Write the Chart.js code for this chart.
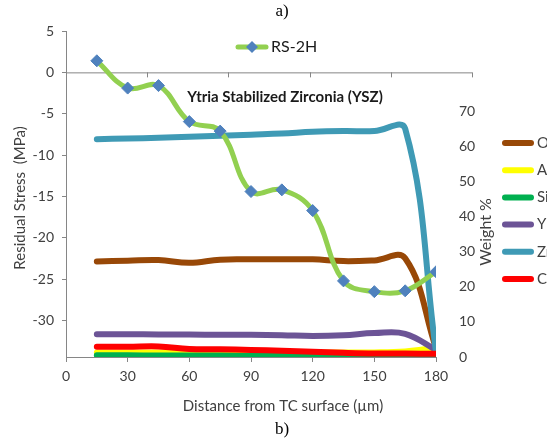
<!DOCTYPE html>
<html>
<head>
<meta charset="UTF-8">
<script src="https://cdn.jsdelivr.net/npm/chart.js"></script>
<style>
  body { margin: 0; background: #fff; }
  #c { display: block; }
</style>
</head>
<body>
<canvas id="c" width="547" height="443"></canvas>
<script>
// distance from TC surface (um)
const distance = [15, 30, 45, 60, 75, 90, 105, 120, 135, 150, 165, 180];

// residual stress, MPa (left axis)
const rs2h = [1.4, -1.9, -1.6, -5.95, -7.1, -14.4, -14.2, -16.7, -25.2, -26.5, -26.4, -24.1];

// weight % (right axis)
const wO  = [27.2, 27.4, 27.6, 26.8, 27.7, 27.8, 27.8, 27.8, 27.3, 27.5, 28.1, 2.5];
const wAl = [1.3, 1.3, 1.3, 1.3, 1.3, 1.3, 1.3, 1.3, 1.3, 1.3, 1.6, 2.6];
const wSi = [0.5, 0.5, 0.4, 0.4, 0.4, 0.3, 0.3, 0.3, 0.3, 0.3, 0.3, 0.3];
const wY  = [6.5, 6.5, 6.4, 6.4, 6.3, 6.3, 6.2, 6.0, 6.2, 6.8, 6.6, 2.0];
const wZr = [62.0, 62.2, 62.4, 62.7, 63.0, 63.3, 63.6, 64.1, 64.3, 64.3, 65.0, 1.5];
const wC  = [2.9, 2.9, 3.0, 2.3, 2.2, 2.0, 1.8, 1.5, 1.2, 1.0, 1.0, 0.9];

const xTicks = [0, 30, 60, 90, 120, 150, 180];
const stressTicks = [5, 0, -5, -10, -15, -20, -25, -30];
const weightTicks = [0, 10, 20, 30, 40, 50, 60, 70];

const AXIS = '#868686';
const TXT = '#404040';
const FONT = 'Lato, sans-serif';

const pts = arr => arr.map((v, i) => ({ x: distance[i], y: v }));

function weightSet(label, data, color, order) {
  return {
    label, data: pts(data), yAxisID: 'y2', borderColor: color, backgroundColor: color,
    borderWidth: 6, borderCapStyle: 'round', pointRadius: 0, tension: 0.4, order
  };
}

const weightSets = [
  weightSet('O', wO, '#984807', 6),
  weightSet('Al', wAl, '#FFFF00', 5),
  weightSet('Si', wSi, '#00B050', 4),
  weightSet('Y', wY, '#6C5496', 3),
  weightSet('Zr', wZr, '#3F9AB5', 2),
  weightSet('C', wC, '#FF0000', 1)
];

const decor = {
  id: 'decor',
  beforeDatasetsDraw(chart) {
    // zero line of the stress plot, with its own tick marks
    const { ctx, chartArea } = chart;
    const y0 = chart.scales.y.getPixelForValue(0);
    const len = chartArea.width * 406 / 370;
    ctx.save();
    ctx.strokeStyle = AXIS;
    ctx.lineWidth = 1;
    ctx.beginPath();
    ctx.moveTo(chartArea.left, y0 + 0.5);
    ctx.lineTo(chartArea.left + len, y0 + 0.5);
    for (let k = 1; k <= 5; k++) {
      const x = Math.round(chartArea.left + len * k / 5) + 0.5;
      ctx.moveTo(x, y0);
      ctx.lineTo(x, y0 + 5);
    }
    ctx.stroke();
    ctx.restore();
  },
  afterDraw(chart) {
    const { ctx } = chart;
    ctx.save();
    ctx.textBaseline = 'middle';

    ctx.fillStyle = '#000';
    ctx.textAlign = 'center';
    ctx.font = '17px "Liberation Serif", serif';
    ctx.fillText('a)', 282, 12);
    ctx.fillText('b)', 282, 430);

    ctx.fillStyle = '#1a1a1a';
    ctx.font = 'bold 15px ' + FONT;
    ctx.fillText('Ytria Stabilized Zirconia (YSZ)', 285, 97);

    ctx.fillStyle = TXT;
    ctx.font = '15px ' + FONT;
    ctx.fillText('Distance from TC surface (\u00b5m)', 283, 406);

    ctx.save();
    ctx.translate(20, 198);
    ctx.rotate(-Math.PI / 2);
    ctx.fillText('Residual Stress  (MPa)', 0, 0);
    ctx.restore();

    ctx.save();
    ctx.translate(486, 232);
    ctx.rotate(-Math.PI / 2);
    ctx.font = '16px ' + FONT;
    ctx.fillText('Weight %', 0, 0);
    ctx.restore();

    // RS-2H legend
    const rs = chart.data.datasets[0];
    ctx.strokeStyle = rs.borderColor;
    ctx.lineWidth = 5;
    ctx.lineCap = 'round';
    ctx.beginPath();
    ctx.moveTo(238, 47);
    ctx.lineTo(266, 47);
    ctx.stroke();
    ctx.fillStyle = rs.pointBackgroundColor;
    ctx.beginPath();
    ctx.moveTo(252, 41); ctx.lineTo(258, 47); ctx.lineTo(252, 53); ctx.lineTo(246, 47);
    ctx.closePath();
    ctx.fill();
    ctx.fillStyle = '#1a1a1a';
    ctx.textAlign = 'left';
    ctx.font = '16px ' + FONT;
    ctx.fillText(rs.label, 271, 47);

    // weight legend (runs off the right edge, as in the source)
    ctx.font = '15px ' + FONT;
    weightSets.forEach((ds, i) => {
      const y = 143 + i * 27.2;
      ctx.strokeStyle = ds.borderColor;
      ctx.lineWidth = 6;
      ctx.beginPath();
      ctx.moveTo(505, y);
      ctx.lineTo(531, y);
      ctx.stroke();
      ctx.fillStyle = TXT;
      ctx.fillText(ds.label, 537, y);
    });
    ctx.restore();
  }
};

new Chart(document.getElementById('c'), {
  type: 'line',
  data: {
    datasets: [
      {
        label: 'RS-2H', data: pts(rs2h), yAxisID: 'y',
        borderColor: '#92D050', borderWidth: 5, tension: 0.4,
        pointStyle: 'rectRot', pointRadius: 6, pointBackgroundColor: '#4F81BD',
        pointBorderColor: '#4F81BD', pointBorderWidth: 1, order: 0
      },
      ...weightSets
    ]
  },
  options: {
    responsive: false,
    animation: false,
    layout: { padding: { top: 31, left: 0, right: 0, bottom: 0 } },
    plugins: { legend: { display: false }, tooltip: { enabled: false }, title: { display: false } },
    scales: {
      x: {
        type: 'linear', min: 0, max: 180,
        afterBuildTicks: s => { s.ticks = xTicks.map(v => ({ value: v })); },
        afterFit: s => { s.height = 86; },
        border: { color: AXIS },
        grid: { drawOnChartArea: false, color: AXIS, tickLength: 5 },
        ticks: { color: TXT, font: { family: FONT, size: 14 }, padding: 6, maxRotation: 0 }
      },
      y: {
        position: 'left', min: -34.4, max: 5,
        afterBuildTicks: s => { s.ticks = stressTicks.map(v => ({ value: v })); },
        afterFit: s => { s.width = 66; },
        border: { color: AXIS },
        grid: { drawOnChartArea: false, color: AXIS, tickLength: 4 },
        ticks: { color: TXT, font: { family: FONT, size: 14 }, padding: 8 }
      },
      y2: {
        position: 'right', min: 0, max: 92.8,
        afterBuildTicks: s => { s.ticks = weightTicks.map(v => ({ value: v })); },
        afterFit: s => { s.width = 111; },
        border: { display: false },
        grid: { display: false },
        ticks: { color: TXT, font: { family: FONT, size: 14 }, padding: 15 }
      }
    }
  },
  plugins: [decor]
});
</script>
</body>
</html>
